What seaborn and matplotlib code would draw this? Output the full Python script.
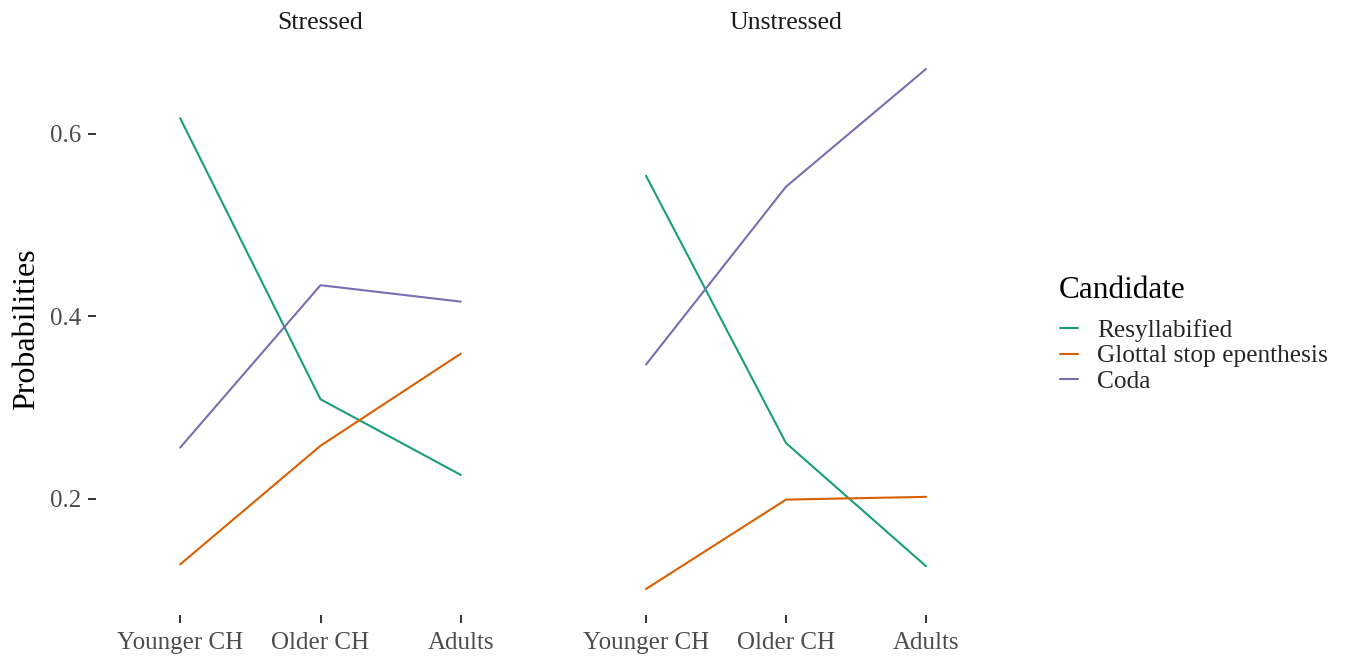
import matplotlib
matplotlib.use("Agg")
import matplotlib.pyplot as plt
import matplotlib.transforms as mtransforms
import pandas as pd
import seaborn as sns

# ---- data -------------------------------------------------------------
groups = ["Younger CH", "Older CH", "Adults"]
candidates = ["Resyllabified", "Glottal stop epenthesis", "Coda"]
conditions = ["Stressed", "Unstressed"]

stressed_resyllabified = [0.617, 0.309, 0.226]
stressed_glottal = [0.128, 0.258, 0.359]
stressed_coda = [0.256, 0.434, 0.416]

unstressed_resyllabified = [0.554, 0.261, 0.126]
unstressed_glottal = [0.101, 0.199, 0.202]
unstressed_coda = [0.347, 0.542, 0.671]

y_ticks = [0.2, 0.4, 0.6]
palette = ["#1B9E77", "#D95F02", "#7570B3"]

series = {
    "Stressed": [stressed_resyllabified, stressed_glottal, stressed_coda],
    "Unstressed": [unstressed_resyllabified, unstressed_glottal, unstressed_coda],
}

rows = []
for cond in conditions:
    for cand, values in zip(candidates, series[cond]):
        for i, (g, v) in enumerate(zip(groups, values)):
            rows.append({"Condition": cond, "Candidate": cand, "Group": g,
                         "pos": i, "Probability": v})
df = pd.DataFrame(rows)

# ---- style ------------------------------------------------------------
sns.set_style("white")
plt.rcParams["font.family"] = ["Liberation Serif", "DejaVu Serif"]

W, H = 1349, 658
fig = plt.figure(figsize=(W / 100, H / 100), dpi=100)
fig.patch.set_facecolor("white")

lo, hi = df["Probability"].min(), df["Probability"].max()
pad = 0.05 * (hi - lo)
ylim = (lo - pad, hi + pad)

panel_top, panel_bottom = 43, 615
panels = [(96, 449), (562, 448)]

axes = []
for k, (cond, (px, pw)) in enumerate(zip(conditions, panels)):
    ax = fig.add_axes([px / W, (H - panel_bottom) / H, pw / W,
                       (panel_bottom - panel_top) / H])
    sub = df[df["Condition"] == cond]
    sns.lineplot(data=sub, x="pos", y="Probability", hue="Candidate",
                 hue_order=candidates, palette=palette, ax=ax,
                 linewidth=1.5, sort=False, legend=(k == 0))
    ax.set_xlim(-0.6, 2.6)
    ax.set_ylim(*ylim)
    ax.set_xticks(range(len(groups)))
    ax.set_xticklabels(groups)
    ax.set_xlabel("")
    ax.set_ylabel("")
    for s in ax.spines.values():
        s.set_visible(False)
    ax.set_facecolor("white")
    ax.tick_params(axis="both", which="major", length=5.5, width=1.4,
                   color="#333333", labelcolor="#4D4D4D", labelsize=18,
                   bottom=True, left=(k == 0))
    ax.tick_params(axis="x", pad=7)
    ax.tick_params(axis="y", pad=5)
    if k == 0:
        ax.set_yticks(y_ticks)
        ax.set_yticklabels([f"{t:.1f}" for t in y_ticks])
    else:
        ax.set_yticks([])
    off = mtransforms.offset_copy(ax.transAxes, fig=fig, x=0, y=20, units="dots")
    ax.text(0.5, 1.0, cond, transform=off, ha="center", va="center",
            fontsize=18.5, color="#1A1A1A")
    axes.append(ax)

fig.text(27 / W, 1 - 329 / H, "Probabilities", rotation=90,
         ha="center", va="center", fontsize=23, color="black")

handles, labels = axes[0].get_legend_handles_labels()
axes[0].get_legend().remove()
fig.text(1059 / W, 1 - 291 / H, "Candidate", ha="left", va="center",
         fontsize=22.5, color="black")
fig.legend(handles, labels, loc="center left",
           bbox_to_anchor=(1060 / W, 1 - 356 / H), frameon=False,
           fontsize=18.3, handlelength=0.72, handletextpad=0.75,
           labelspacing=0.12, borderpad=0, borderaxespad=0)

fig.savefig("out.png", dpi=100, facecolor="white")
